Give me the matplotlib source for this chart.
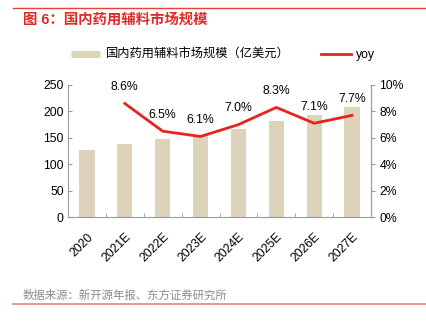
import matplotlib
matplotlib.use("Agg")
import matplotlib.pyplot as plt
from matplotlib.lines import Line2D
import numpy as np

plt.rcParams['font.family'] = ['Liberation Sans', 'Noto Sans CJK SC', 'DejaVu Sans']

categories = ['2020', '2021E', '2022E', '2023E', '2024E', '2025E', '2026E', '2027E']
market_size = [127, 138, 147, 156, 167, 181, 194, 209]
yoy_cats = ['2021E', '2022E', '2023E', '2024E', '2025E', '2026E', '2027E']
yoy = [8.6, 6.5, 6.1, 7.0, 8.3, 7.1, 7.7]
left_ticks = [0, 50, 100, 150, 200, 250]
right_ticks = [0, 2, 4, 6, 8, 10]

title = '图 6：国内药用辅料市场规模'
bar_label = '国内药用辅料市场规模（亿美元）'
line_label = 'yoy'
source = '数据来源：新开源年报、东方证券研究所'

BAR = '#ddd3bb'
RED = '#e8231e'
GRAY = '#9a9a9a'
FS = 8.8

W, H = 426, 323
fig = plt.figure(figsize=(W / 100, H / 100), dpi=100)

# Decorations: red rules and title / source
fig.add_artist(Line2D([13 / W, 1], [1 - 8 / H, 1 - 8 / H], color='#e8403a', lw=1.0))
fig.text(23 / W, 1 - 20 / H, title, color='#e02a24', fontsize=10.4, fontweight='bold',
         va='center', ha='left')
fig.text(23 / W, 1 - 295 / H, source, color='#8c8c8c', fontsize=8.2, va='center', ha='left')
fig.add_artist(Line2D([13 / W, 1], [1 - 304 / H, 1 - 304 / H], color='#f08a85', lw=1.3))

ax = fig.add_axes([68 / W, (H - 217) / H, 303 / W, 132 / H])
x = np.arange(len(categories))
ax.bar(x, market_size, width=0.4, color=BAR, zorder=2)
ax.set_xlim(-0.5, len(categories) - 0.5)
ax.set_ylim(0, 250)
ax.set_yticks(left_ticks)
ax.set_yticklabels([str(t) for t in left_ticks], fontsize=FS)
ax.set_xticks(x)
ax.set_xticklabels(categories, rotation=45, ha='right', va='top', fontsize=FS,
                   rotation_mode='anchor')
ax.set_xticks(np.arange(len(categories) + 1) - 0.5, minor=True)
ax.tick_params(axis='x', which='major', length=0, pad=10)
ax.tick_params(axis='x', which='minor', direction='in', length=3, color=GRAY)
ax.tick_params(axis='y', direction='in', length=3, color=GRAY, pad=3)
for s in ['top']:
    ax.spines[s].set_visible(False)
for s in ['left', 'bottom', 'right']:
    ax.spines[s].set_color(GRAY)

ax2 = ax.twinx()
xi = [categories.index(c) for c in yoy_cats]
ax2.plot(xi, yoy, color=RED, lw=2, zorder=3)
ax2.set_ylim(0, 10)
ax2.set_yticks(right_ticks)
ax2.set_yticklabels([f'{t}%' for t in right_ticks], fontsize=FS)
ax2.tick_params(axis='y', direction='out', length=3, color=GRAY, pad=3)
ax2.spines['top'].set_visible(False)
ax2.spines['right'].set_color(GRAY)
ax2.spines['left'].set_visible(False)
ax2.spines['bottom'].set_visible(False)
for xv, v in zip(xi, yoy):
    ax2.annotate(f'{v:.1f}%', (xv, v), xytext=(0, 12), textcoords='offset points',
                 ha='center', va='center', fontsize=FS)

handles = [Line2D([], [], color=BAR, lw=5, solid_capstyle='butt'),
           Line2D([], [], color=RED, lw=2)]
fig.legend(handles, [bar_label, line_label], ncol=2, frameon=False,
           loc='center left', bbox_to_anchor=(66 / W, 1 - 55 / H),
           fontsize=8.8, handlelength=2.4, handletextpad=0.45, columnspacing=2.6,
           borderaxespad=0)

fig.savefig('out.png', dpi=100)
